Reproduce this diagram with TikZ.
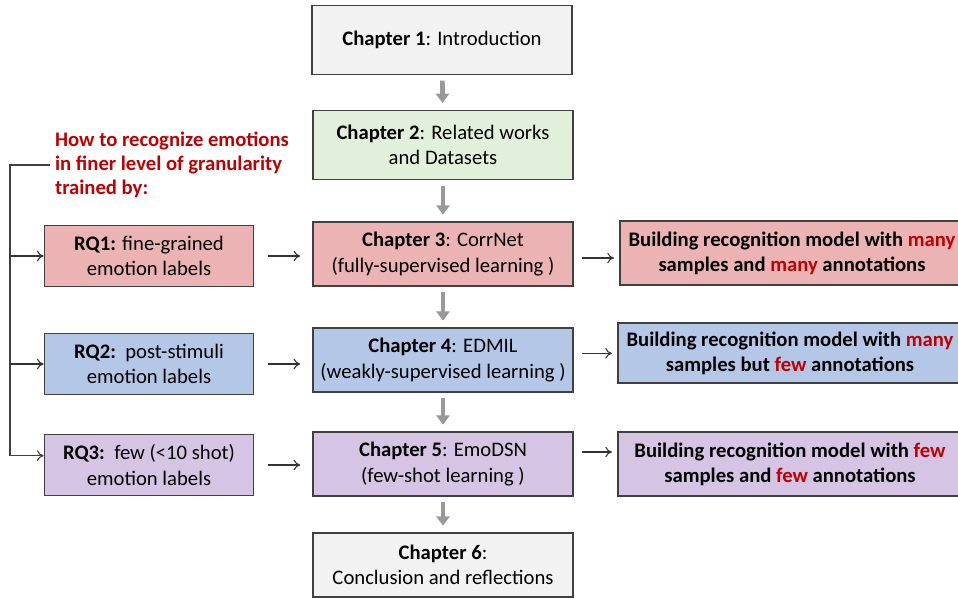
\documentclass[tikz,border=0pt]{standalone}
\usepackage{fontspec}
\setmainfont{Carlito}
\usetikzlibrary{arrows.meta,positioning}

\definecolor{introgray}{HTML}{F2F2F2}
\definecolor{relgreen}{HTML}{E2EFDA}
\definecolor{rqred}{HTML}{EBB3B3}
\definecolor{rqblue}{HTML}{B4C7E7}
\definecolor{rqpurple}{HTML}{D5C4E4}
\definecolor{hotred}{HTML}{C00000}

\tikzset{every picture/.style={line width=1pt}}
\tikzset{
  box/.style={draw=black!75, line width=1.1pt, minimum width=#1,
                minimum height=48pt, align=center, inner sep=2pt,
                font=\fontsize{15.5}{18.8}\selectfont},
  box/.default={195pt}, % width of the chapter column
  down/.style={-{Triangle[length=7pt,width=10pt]}, line width=3.5pt,
                draw=black!40, shorten <=4pt, shorten >=5pt},
  link/.style={-{To[length=5pt,width=8pt]}, line width=0.8pt, draw=black!80},
}
\newcommand{\hot}[1]{\textcolor{hotred}{#1}}

\begin{document}
\begin{tikzpicture}[x=0.75pt,y=-0.75pt]
  \useasboundingbox (0,0) rectangle (958,598);
  % middle column: chapters
  \node[box, minimum height=52pt, fill=introgray] (c1) at (442,40) {\textbf{Chapter 1}: Introduction};
  \node[box, minimum height=52pt, fill=relgreen] (c2) at (443,145) {\textbf{Chapter 2}: Related works\\and Datasets};
  \node[box, fill=rqred] (c3) at (443,254) {\textbf{Chapter 3}: CorrNet\\(fully-supervised learning )};
  \node[box, fill=rqblue] (c4) at (443,360) {\textbf{Chapter 4}: EDMIL\\(weakly-supervised learning )};
  \node[box, fill=rqpurple] (c5) at (443,464) {\textbf{Chapter 5}: EmoDSN\\(few-shot learning )};
  \node[box, fill=introgray] (c6) at (443,565) {\textbf{Chapter 6}:\\Conclusion and reflections};
  \foreach \a/\b in {c1/c2,c2/c3,c3/c4,c4/c5,c5/c6}
    \draw[down] (\a) -- (\b);

  % left column: research questions
  \node[align=left, anchor=west, text=hotred, font=\fontsize{15.5}{18}\selectfont\bfseries] (q) at (50,165)
    {How to recognize emotions\\in finer level of granularity\\trained by:};
  \node[box=157pt, minimum height=46pt, fill=rqred] (rq1) at (149,256) {\textbf{RQ1:} fine-grained\\emotion labels};
  \node[box=157pt, minimum height=46pt, fill=rqblue] (rq2) at (149,364) {\textbf{RQ2:}\ \ post-stimuli\\emotion labels};
  \node[box=157pt, minimum height=46pt, fill=rqpurple] (rq3) at (149,465) {\textbf{RQ3:}\ \ few (<10 shot)\\emotion labels};
  \coordinate (spine) at (10,165);
  \coordinate (rq3in) at ([yshift=7pt]rq3.west);
  \draw[link, draw=black!75] (q.west) -- (spine) |- (rq3in);
  \draw[link] (spine |- rq1) -- (rq1.west);
  \draw[link] (spine |- rq2) -- (rq2.west);

  % right column: outcomes
  \node[box=258pt, font=\fontsize{15.5}{18.8}\selectfont\bfseries, fill=rqred] (r1) at (792,253)
    {Building recognition model with \hot{many}\\samples and \hot{many} annotations};
  \node[box=258pt, minimum height=45pt, font=\fontsize{15.5}{18.8}\selectfont\bfseries, fill=rqblue] (r2) at (790,353)
    {Building recognition model with \hot{many}\\samples but \hot{few} annotations};
  \node[box=258pt, font=\fontsize{15.5}{18.8}\selectfont\bfseries, fill=rqpurple] (r3) at (790,464)
    {Building recognition model with \hot{few}\\samples and \hot{few} annotations};

  % horizontal connectors
  \foreach \a/\b in {rq1/c3,rq2/c4,rq3/c5}
    \draw[link, shorten <=10pt, shorten >=9pt] (\a.east) -- (\a.east -| \b.west);
  \draw[link, shorten <=6pt, shorten >=4pt] ([yshift=-3pt]c3.east) -- ([yshift=-3pt]c3.east -| r1.west);
  \draw[link, shorten <=6pt, shorten >=4pt] ([yshift=5pt]c4.east) -- ([yshift=5pt]c4.east -| r2.west);
  \draw[link, shorten <=6pt, shorten >=4pt] ([yshift=9pt]c5.east) -- ([yshift=9pt]c5.east -| r3.west);
\end{tikzpicture}
\end{document}
